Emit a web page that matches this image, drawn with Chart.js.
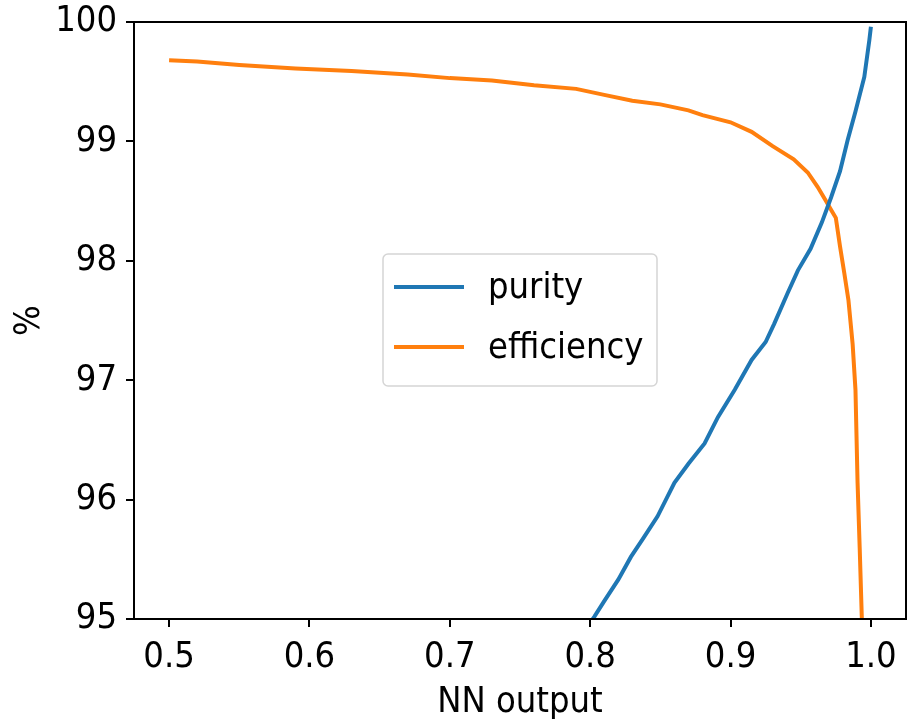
<!DOCTYPE html>
<html>
<head>
<meta charset="utf-8">
<title>Purity and efficiency vs NN output</title>
<script src="https://cdn.jsdelivr.net/npm/chart.js@4/dist/chart.umd.min.js"></script>
<style>
  html, body { margin: 0; padding: 0; background: #fff; }
  #wrap { width: 908px; height: 727px; }
</style>
</head>
<body>
<div id="wrap"><canvas id="chart" width="908" height="727"></canvas></div>
<script>
/* ── Data ── */
const effX = [0.5, 0.52, 0.55, 0.59, 0.63, 0.67, 0.70, 0.73, 0.76, 0.79, 0.81, 0.83, 0.85, 0.87, 0.88, 0.90,
              0.915, 0.93, 0.945, 0.955, 0.962, 0.968, 0.972, 0.975, 0.978, 0.981, 0.984, 0.987, 0.989,
              0.9905, 0.992, 0.9935, 0.994];
const effY = [99.68, 99.67, 99.64, 99.61, 99.59, 99.56, 99.53, 99.51, 99.47, 99.44, 99.39, 99.34, 99.31, 99.26, 99.22, 99.16,
              99.08, 98.96, 98.85, 98.74, 98.62, 98.50, 98.42, 98.36, 98.12, 97.90, 97.67, 97.30, 96.92,
              96.14, 95.60, 95.02, 94.70];

const purX = [0.79, 0.803, 0.81, 0.82, 0.829, 0.838, 0.848, 0.86, 0.87, 0.8815, 0.891, 0.903, 0.915, 0.925,
              0.931, 0.9407, 0.948, 0.957, 0.965, 0.9716, 0.978, 0.9834, 0.989, 0.9953, 0.9989, 1.0];
const purY = [94.80, 95.02, 95.15, 95.33, 95.52, 95.68, 95.86, 96.14, 96.30, 96.47, 96.69, 96.92, 97.17, 97.32,
              97.47, 97.73, 97.92, 98.10, 98.32, 98.53, 98.75, 99.01, 99.25, 99.54, 99.85, 99.96];

const xTicks = [0.5, 0.6, 0.7, 0.8, 0.9, 1.0];
const yTicks = [95, 96, 97, 98, 99, 100];
const seriesNames = ['purity', 'efficiency'];

/* ── Styling ── */
const FONT = "'DejaVu Sans Condensed', 'DejaVu Sans', sans-serif";
const BLUE = '#1f77b4';
const ORANGE = '#ff7f0e';

const toPoints = (xs, ys) => xs.map((x, i) => ({ x, y: ys[i] }));

/* ── Frame on all four sides, drawn over the lines like matplotlib spines ── */
const framePlugin = {
  id: 'frame',
  afterDatasetsDraw(chart) {
    const { ctx, chartArea: a } = chart;
    ctx.save();
    ctx.strokeStyle = '#000';
    ctx.lineWidth = 2;
    ctx.strokeRect(a.left, a.top, a.right - a.left, a.bottom - a.top);
    ctx.restore();
  }
};

/* ── Legend inside the plot area ── */
const legendPlugin = {
  id: 'innerLegend',
  afterDraw(chart) {
    const { ctx, chartArea: a } = chart;
    const bx = a.left + 249, by = a.top + 232, bw = 274, bh = 132;
    ctx.save();
    ctx.beginPath();
    ctx.roundRect(bx, by, bw, bh, 5);
    ctx.fillStyle = 'rgba(255,255,255,0.85)';
    ctx.fill();
    ctx.strokeStyle = '#d5d5d5';
    ctx.lineWidth = 1.5;
    ctx.stroke();

    ctx.font = `36px ${FONT}`;
    ctx.textBaseline = 'middle';
    ctx.fillStyle = '#000';
    chart.data.datasets.forEach((ds, i) => {
      const ly = by + 33 + i * 60;
      ctx.beginPath();
      ctx.moveTo(bx + 11, ly);
      ctx.lineTo(bx + 81, ly);
      ctx.strokeStyle = ds.borderColor;
      ctx.lineWidth = 4;
      ctx.stroke();
      ctx.fillText(ds.label, bx + 105, ly + 2);
    });
    ctx.restore();
  }
};

new Chart(document.getElementById('chart'), {
  type: 'line',
  data: {
    datasets: [
      {
        label: seriesNames[0],
        data: toPoints(purX, purY),
        borderColor: BLUE,
        backgroundColor: BLUE,
        borderWidth: 4,
        pointRadius: 0,
        tension: 0,
        clip: 0,
      },
      {
        label: seriesNames[1],
        data: toPoints(effX, effY),
        borderColor: ORANGE,
        backgroundColor: ORANGE,
        borderWidth: 4,
        pointRadius: 0,
        tension: 0,
        clip: 0,
      }
    ]
  },
  options: {
    responsive: false,
    animation: false,
    layout: { padding: { top: 22, right: 2, left: 0, bottom: 0 } },
    plugins: {
      legend: { display: false },
      tooltip: { enabled: false },
    },
    scales: {
      x: {
        type: 'linear',
        min: 0.475,
        max: 1.025,
        afterBuildTicks: s => { s.ticks = xTicks.map(v => ({ value: v })); },
        afterFit: s => { s.height = 108; s.paddingLeft = 0; s.paddingRight = 0; },
        grid: { display: true, drawOnChartArea: false, drawTicks: true, tickLength: 8, color: '#000', lineWidth: 2 },
        border: { display: true, color: '#000', width: 2 },
        ticks: {
          color: '#000',
          padding: 9,
          maxRotation: 0,
          font: { family: FONT, size: 36 },
          callback: v => Number(v).toFixed(1),
        },
        title: {
          display: true,
          text: 'NN output',
          color: '#000',
          font: { family: FONT, size: 36 },
          padding: { top: 0, bottom: 3 },
        }
      },
      y: {
        min: 95,
        max: 100,
        afterBuildTicks: s => { s.ticks = yTicks.map(v => ({ value: v })); },
        afterFit: s => { s.width = 134; s.paddingTop = 0; s.paddingBottom = 0; },
        grid: { display: true, drawOnChartArea: false, drawTicks: true, tickLength: 8, color: '#000', lineWidth: 2 },
        border: { display: true, color: '#000', width: 2 },
        ticks: {
          color: '#000',
          padding: 9,
          font: { family: FONT, size: 36 },
          callback: v => String(v),
        },
        title: {
          display: true,
          text: '%',
          color: '#000',
          font: { family: FONT, size: 36 },
          padding: { top: 8, bottom: 0 },
        }
      }
    }
  },
  plugins: [framePlugin, legendPlugin]
});
</script>
</body>
</html>
